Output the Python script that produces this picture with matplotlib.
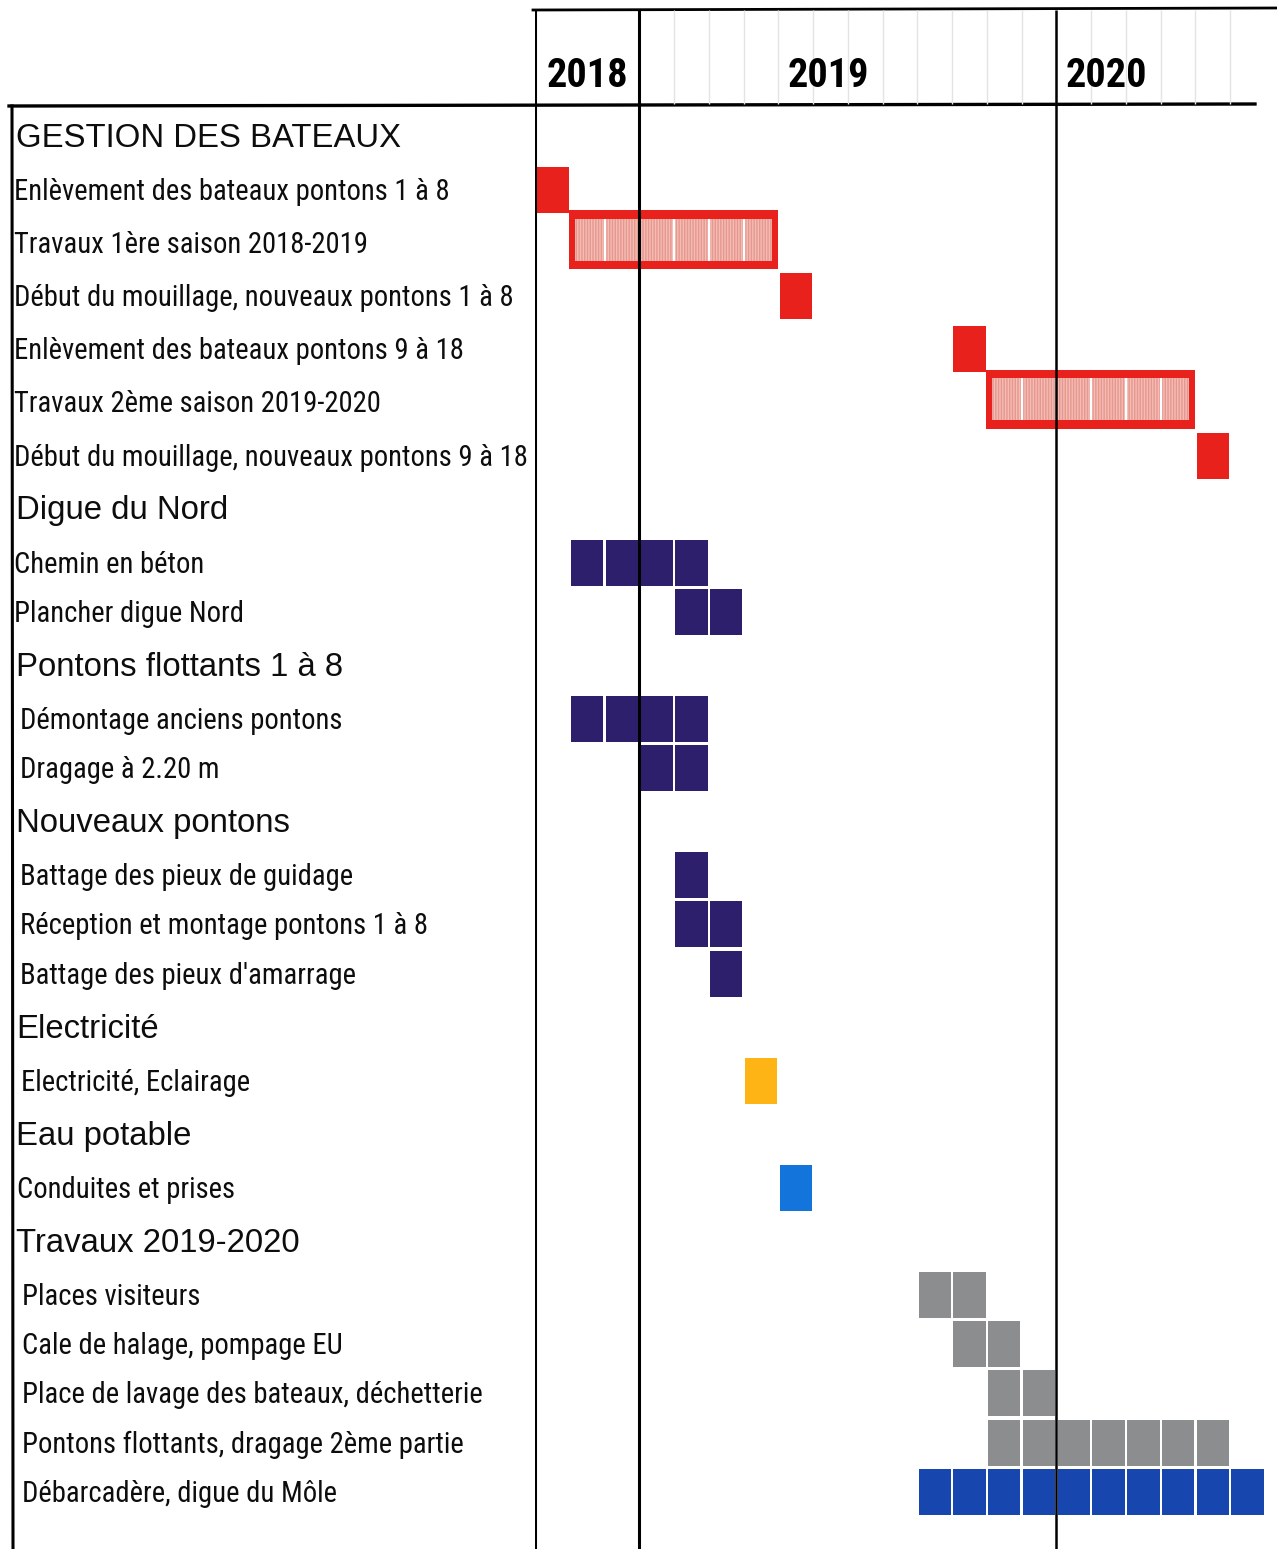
import os
import math
import matplotlib
matplotlib.use("Agg")
import matplotlib.pyplot as plt
from matplotlib import font_manager
from matplotlib.font_manager import FontProperties
from matplotlib.textpath import TextPath

# ---------------- data ----------------
months = ["2018-10", "2018-11", "2018-12",
          "2019-01", "2019-02", "2019-03", "2019-04", "2019-05", "2019-06",
          "2019-07", "2019-08", "2019-09", "2019-10", "2019-11", "2019-12",
          "2020-01", "2020-02", "2020-03", "2020-04", "2020-05", "2020-06"]
years = ["2018", "2019", "2020"]

sections = ["GESTION DES BATEAUX", "Digue du Nord", "Pontons flottants 1 à 8",
            "Nouveaux pontons", "Electricité", "Eau potable", "Travaux 2019-2020"]

task_labels = [
    "Enlèvement des bateaux pontons 1 à 8",
    "Travaux 1ère saison 2018-2019",
    "Début du mouillage, nouveaux pontons 1 à 8",
    "Enlèvement des bateaux pontons 9 à 18",
    "Travaux 2ème saison 2019-2020",
    "Début du mouillage, nouveaux pontons 9 à 18",
    "Chemin en béton",
    "Plancher digue Nord",
    "Démontage anciens pontons",
    "Dragage à 2.20 m",
    "Battage des pieux de guidage",
    "Réception et montage pontons 1 à 8",
    "Battage des pieux d'amarrage",
    "Electricité, Eclairage",
    "Conduites et prises",
    "Places visiteurs",
    "Cale de halage, pompage EU",
    "Place de lavage des bateaux, déchetterie",
    "Pontons flottants, dragage 2ème partie",
    "Débarcadère, digue du Môle",
]
task_section = [0, 0, 0, 0, 0, 0, 1, 1, 2, 2, 3, 3, 3, 4, 5, 6, 6, 6, 6, 6]
task_start = ["2018-10", "2018-11", "2019-05", "2019-10", "2019-11", "2020-05",
              "2018-11", "2019-02", "2018-11", "2019-01",
              "2019-02", "2019-02", "2019-03", "2019-04", "2019-05",
              "2019-09", "2019-10", "2019-11", "2019-11", "2019-09"]
task_duration = [1, 6, 1, 1, 6, 1,
                 4, 2, 4, 2,
                 1, 2, 1, 1, 1,
                 2, 2, 2, 7, 10]
task_type = ["event", "season", "event", "event", "season", "event",
             "work", "work", "work", "work", "work", "work", "work",
             "elec", "water", "grey", "grey", "grey", "grey", "quay"]

# ---------------- style ----------------
W, H = 1277, 1549
colors = {"event": "#e8211d", "season": "#e8211d", "work": "#2e1f6c",
          "elec": "#ffb416", "water": "#1374db", "grey": "#8b8d8f",
          "quay": "#1747ae"}

# reference text extents (pixels) used to choose font and size
task_fit = [(task_labels[0], 431), (task_labels[5], 511),
            (task_labels[17], 458), (task_labels[11], 402)]
head_fit = [(sections[0], 382), (sections[1], 208), (sections[2], 322),
            (sections[3], 270), (sections[6], 282)]
year_fit = [(years[0], 78)]

BASES = ("liberation sans", "lato", "open sans", "roboto", "inter",
         "noto sans", "dejavu sans", "arial")


def candidates(bold):
    out = []
    for f in font_manager.fontManager.ttflist:
        nm = f.name.lower()
        ok = nm in BASES or any(
            nm.startswith(b) and ("narrow" in nm or "condensed" in nm)
            for b in BASES)
        if not ok:
            continue
        if f.style != "normal":
            continue
        try:
            wt = int(f.weight)
        except (TypeError, ValueError):
            wt = 700 if "bold" in str(f.weight) else 400
        base = os.path.basename(f.fname).lower()
        if any(k in base for k in ("light", "thin", "medium", "semibold",
                                   "black", "heavy", "extrabold", "italic")):
            continue
        if bold and wt != 700:
            continue
        if not bold and wt != 400:
            continue
        out.append(f.fname)
    return sorted(set(out))[:60]


def pick(fit, cap_px, bold):
    best = None
    for fn in candidates(bold):
        try:
            p = FontProperties(fname=fn)
            a = [TextPath((0, 0), s, size=100, prop=p).get_extents().width / 72
                 for s, _ in fit]
            c = TextPath((0, 0), "H", size=100, prop=p).get_extents().height / 72
        except Exception:
            continue
        t = [tt for _, tt in fit]
        S = sum(ai * ti for ai, ti in zip(a, t)) / sum(ai * ai for ai in a)
        rms = math.sqrt(sum((ai * S - ti) ** 2 for ai, ti in zip(a, t)) / len(t))
        score = rms + 1.5 * abs(c * S - cap_px)
        if best is None or score < best[0]:
            best = (score, fn, S)
    if best is None:
        return FontProperties(family=["Liberation Sans", "DejaVu Sans"],
                              weight="bold" if bold else "normal", size=20)
    p = FontProperties(fname=best[1])
    p.set_size(best[2])
    return p


task_prop = pick(task_fit, 21.5, False)
head_prop = pick(head_fit, 26.0, False)
year_prop = pick(year_fit, 28.0, True)

fig = plt.figure(figsize=(W / 100, H / 100), dpi=100)
bg = fig.add_axes([0, 0, 1, 1])
bg.set_xlim(0, W)
bg.set_ylim(H, 0)
bg.axis("off")

X0, X1 = 535, 1265
ax = fig.add_axes([X0 / W, 0, (X1 - X0) / W, 1])
ax.set_xlim(0, len(months))
ax.set_ylim(H, 0)
ax.axis("off")
ppm = (X1 - X0) / len(months)  # pixels per month

# ---------------- row layout ----------------
rows = []
for s in range(len(sections)):
    rows.append(("h", s))
    for t, ts in enumerate(task_section):
        if ts == s:
            rows.append(("t", t))
ys = []
y = 137.0
prev = None
for kind, idx in rows:
    if prev is not None:
        if kind == "t" and prev[0] == "h":
            y += 53.5
        elif kind == "h":
            y += 53.5
        else:
            y += 53.2 if task_section[idx] == 0 else 49.3
    ys.append(y)
    prev = (kind, idx)

task_y = {}
for (kind, idx), yy in zip(rows, ys):
    if kind == "h":
        bg.text(16, yy + 1, sections[idx], fontproperties=head_prop,
                va="center", ha="left", color="#0d0d0d")
    else:
        task_y[idx] = yy
        indent = [14, 14, 20, 20, 21, 17, 22][task_section[idx]]
        bg.text(indent, yy + 1, task_labels[idx], fontproperties=task_prop,
                va="center", ha="left", color="#0d0d0d")

# ---------------- bars ----------------
gap = 1.2 / ppm
for t in range(len(task_labels)):
    yc = task_y[t]
    m0 = months.index(task_start[t])
    n = task_duration[t]
    col = colors[task_type[t]]
    if task_type[t] == "season":
        hh = 59
        ax.bar(m0 - 0.03, hh, width=n + 0.03, bottom=yc - 4 - hh / 2,
               align="edge", color=col, linewidth=0, zorder=3)
        ix = 6 / ppm
        ih = hh - 17
        ax.bar(m0 - 0.03 + ix, ih, width=n + 0.03 - 2 * ix,
               bottom=yc - 4 - ih / 2, align="edge", facecolor="#f5bcb3",
               edgecolor="#e59890", hatch="||||||", linewidth=0, zorder=4)
        ax.vlines([m0 + i for i in range(1, n)], yc - 4 - ih / 2,
                  yc - 4 + ih / 2, color="white", linewidth=1.6, zorder=5)
    else:
        hh = 46
        xs = [m0 + i + gap for i in range(n)]
        ax.bar(xs, hh, width=1 - 2 * gap, bottom=yc - hh / 2 - 1,
               align="edge", color=col, linewidth=0, zorder=3)

# ---------------- grid / frame ----------------
ax.vlines(range(4, len(months)), 10, 104, color="#e4e4e4", linewidth=1.0,
          zorder=1)
year_starts = [0] + [i for i, m in enumerate(months) if m.endswith("-01")]
for i, xs in enumerate(year_starts):
    ax.vlines(xs, 10, H, color="black", linewidth=2.2 if i < 2 else 1.8,
              zorder=6)
bg.plot([X0 - 2, W], [10, 8], color="black", linewidth=2.0)
bg.plot([9, 1255], [106, 104], color="black", linewidth=2.4)
bg.plot([12, 13], [106, H], color="black", linewidth=2.2)

# year labels
year_x = [1.5, 8.45, 16.45]
for yr, xx in zip(years, year_x):
    ax.text(xx, 76, yr, fontproperties=year_prop, ha="center", va="center",
            color="black")

fig.savefig("out.png", dpi=100, facecolor="white")
